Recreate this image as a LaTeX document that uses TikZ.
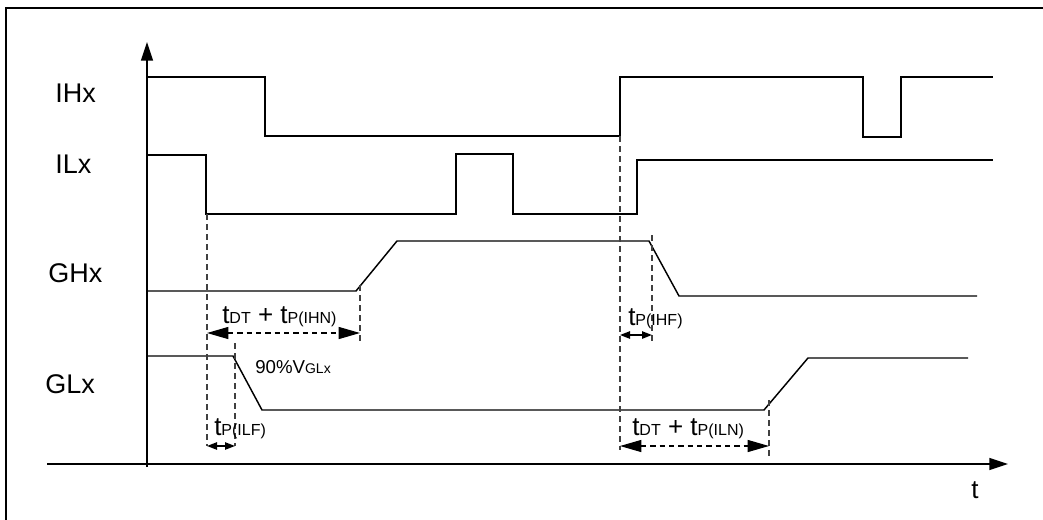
\documentclass[tikz,border=0pt]{standalone}
\usepackage{fontspec}
\setmainfont{Liberation Sans}
\usetikzlibrary{arrows.meta}
\newcommand\szMain{\fontsize{20.25}{22}\selectfont}
\newcommand\szT{\fontsize{19.5}{21}\selectfont}
\newcommand\szSub{\fontsize{12}{13}\selectfont}
\newcommand\szPct{\fontsize{14}{15}\selectfont}
\newcommand\szPctSub{\fontsize{10.5}{11}\selectfont}
\begin{document}
\begin{tikzpicture}[x=0.75pt,y=-0.75pt,
  sig/.style={line width=1.1pt,black},
  axisline/.style={line width=1.1pt,black,-{Triangle[length=14pt,width=9pt]}},
  guide/.style={line width=0.8pt,black!75,dash pattern=on 4.5pt off 3pt},
  dimbig/.style={line width=0.9pt,black,dash pattern=on 4pt off 3pt,
     {Triangle[length=16pt,width=9pt]}-{Triangle[length=16pt,width=9pt]}},
  dimsmall/.style={line width=1.1pt,black,
     {Triangle[length=7.5pt,width=5.5pt]}-{Triangle[length=7.5pt,width=5.5pt]}},
  lbl/.style={anchor=base west,inner sep=0pt,font=\szMain},
  ann/.style={anchor=base west,inner sep=0pt}]
\useasboundingbox (0,0) rectangle (1043,519);
\clip (0,0) rectangle (1043,519);
% frame
\draw[line width=1.6pt] (6,8) rectangle (1060,540);
% axes
\coordinate (yb) at (147,467);
\coordinate (yt) at (147,42);
\coordinate (xl) at (47,464);
\coordinate (xr) at (1008,464);
\draw[axisline] (yb) -- (yt);
\draw[axisline] (xl) -- (xr);
\node[ann,font=\szT] (tlab) at (971,498) {t};
% signal labels
\node[lbl] (lIH) at (55,102) {IHx};
\node[lbl] (lIL) at (55,173) {ILx};
\node[lbl] (lGH) at (48,282) {GHx};
\node[lbl] (lGL) at (45,393) {GLx};
% signals
\draw[sig] (148,77) -- (265,77) -- (265,136) -- (620,136) -- (620,77) -- (863,77)
  -- (863,137) -- (901,137) -- (901,77) -- (993,77);
\draw[sig] (148,155) -- (206,155) -- (206,214) -- (456,214) -- (456,154) -- (513,154)
  -- (513,214) -- (637,214) -- (637,160) -- (993,160);
\draw[sig] (148,291) -- (356,291) -- (397,241) -- (649,241) -- (679,296) -- (977,296);
\draw[sig] (148,356) -- (233,356) -- (262,410) -- (764,410) -- (808,358) -- (968,358);
% guide lines
\coordinate (g1t) at (207,214); \coordinate (g1b) at (207,446);
\coordinate (g2t) at (235,343); \coordinate (g2b) at (235,446);
\coordinate (g3t) at (360,285); \coordinate (g3b) at (360,345);
\coordinate (g4t) at (620,136); \coordinate (g4b) at (620,450);
\coordinate (g5t) at (652,235); \coordinate (g5b) at (652,345);
\coordinate (g6t) at (769,400); \coordinate (g6b) at (769,458);
\foreach \a in {1,...,6} \draw[guide] (g\a t) -- (g\a b);
% dimension arrows
\coordinate (a1l) at (207,333); \coordinate (a1r) at (360,333);
\coordinate (a2l) at (207,446); \coordinate (a2r) at (235,446);
\coordinate (a3l) at (620,335); \coordinate (a3r) at (652,335);
\coordinate (a4l) at (620,446); \coordinate (a4r) at (769,446);
\draw[dimbig] (a1l) -- (a1r);
\draw[dimsmall] (a2l) -- (a2r);
\draw[dimsmall] (a3l) -- (a3r);
\draw[dimbig] (a4l) -- (a4r);
% annotations
\node[ann] (n1) at (222,323) {\szT t\szSub DT\szT{} + t\szSub P(IHN)};
\node[ann] (n2) at (214,435) {\szT t\szSub P(ILF)};
\node[ann] (n3) at (628,325) {\szT t\szSub P(IHF)};
\node[ann] (n4) at (632,435) {\szT t\szSub DT\szT{} + t\szSub P(ILN)};
\node[ann] (n5) at (255,373) {\szPct 90\%V\szPctSub GLx};
\end{tikzpicture}
\end{document}
